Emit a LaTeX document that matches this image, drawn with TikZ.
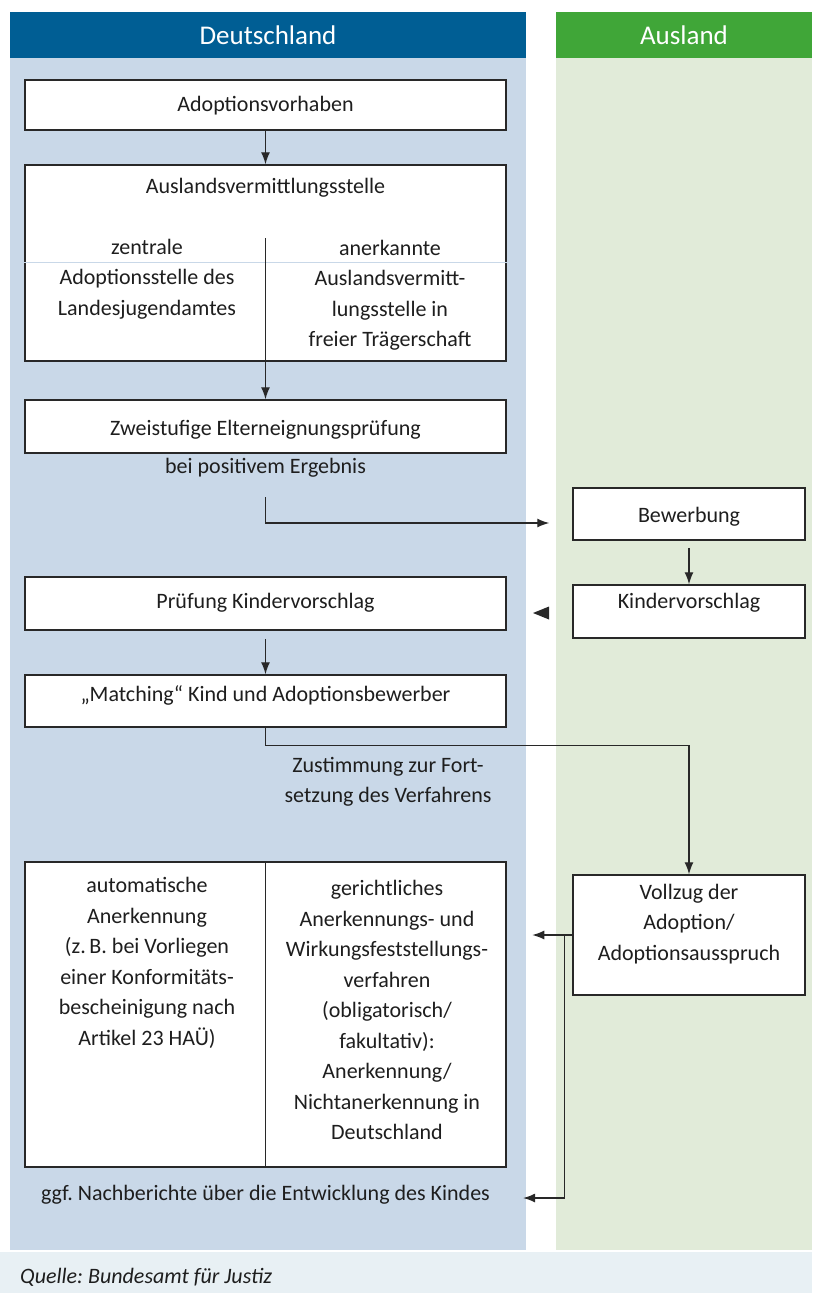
\documentclass[tikz,border=0pt]{standalone}
\usepackage{fontspec}
\setmainfont{Carlito}
\usetikzlibrary{arrows.meta}
\usetikzlibrary{positioning}
\tikzset{>={Latex[length=12pt,width=9pt]}}
\definecolor{dehead}{RGB}{0,94,148}
\definecolor{debody}{RGB}{201,216,232}
\definecolor{auhead}{RGB}{64,166,56}
\definecolor{aubody}{RGB}{225,235,217}
\definecolor{quellbg}{RGB}{232,240,244}
\definecolor{linegray}{RGB}{40,40,40}
\definecolor{textgray}{RGB}{30,30,30}
\frenchspacing

\begin{document}
\begin{tikzpicture}[x=1pt, y=-1pt,
    stepbox/.style={draw=linegray, line width=1.5pt, fill=white, inner sep=0pt},
    txt/.style={font=\fontsize{22}{30.5}\selectfont, text=textgray, align=center, inner sep=0pt},
    kopf/.style={font=\fontsize{27}{30}\selectfont, text=white, inner sep=0pt},
    link/.style={draw=linegray, line width=1.3pt}]
      \useasboundingbox (0,0) rectangle (812,1293);
      % columns
      \fill[debody] (10,58) rectangle (526,1250);
      \fill[aubody] (556,58) rectangle (812,1250);
      \node[kopf, fill=dehead, minimum width=516pt, minimum height=46pt] (de) at (268,35) {Deutschland};
      \node[kopf, fill=auhead, minimum width=256pt, minimum height=46pt] (au) at (684,35) {Ausland};
      % source
      \fill[quellbg] (0,1252) rectangle (812,1293);
      \node[txt, anchor=west, font=\fontsize{22}{30}\selectfont\itshape] (quelle) at (20,1277) {Quelle: Bundesamt für Justiz};
      % Deutschland
      \node[stepbox, minimum width=481pt, minimum height=50pt] (vorhaben) at (265.5,105) {};
      \node[txt] (vorhabentext) at (265.5,106) {Adoptionsvorhaben};
      \node[stepbox, minimum width=481pt, minimum height=196pt] (avs) at (265.5,263) {};
      \draw[debody, line width=1pt] (avs.west |- 0,262) -- (avs.east |- 0,262);
      \node[txt] (avstitel) at (265.5,188) {Auslandsvermittlungsstelle};
      \node[txt] (zentral) at (147,279) {zentrale\\Adoptionsstelle des\\Landesjugendamtes};
      \node[txt] (anerkannt) at (390,295) {anerkannte\\Auslandsvermitt-\\lungsstelle in\\freier Trägerschaft};
      \coordinate (gabel) at (265.5,238);
      \node[stepbox, minimum width=481pt, minimum height=53pt] (eignung) at (265.5,426.5) {};
      \node[txt] (eignungtext) at (265.5,430) {Zweistufige Elterneignungsprüfung};
      \node[txt] (ergebnis) at (265.5,468) {bei positivem Ergebnis};
      \coordinate (ergebnisfuss) at (265.5,497);
      \node[stepbox, minimum width=481pt, minimum height=53pt] (pruefung) at (265.5,603.5) {};
      \node[txt] (pruefungtext) at (265.5,603) {Prüfung Kindervorschlag};
      \node[stepbox, minimum width=481pt, minimum height=52pt] (matching) at (265.5,701) {};
      \node[txt] (matchingtext) at (265.5,695) {„Matching“ Kind und Adoptionsbewerber};
      \node[txt] (zustimmung) at (388,782) {Zustimmung zur Fort-\\setzung des Verfahrens};
      \node[stepbox, minimum width=481pt, minimum height=305pt] (anerk) at (265.5,1014.5) {};
      \draw[link, line width=1.5pt] (anerk.north) -- (anerk.south);
      \node[txt] (auto) at (147,963) {automatische\\Anerkennung\\(z.\,B. bei Vorliegen\\einer Konformitäts-\\bescheinigung nach\\Artikel 23 HAÜ)};
      \node[txt] (gericht) at (387,1010) {gerichtliches\\Anerkennungs- und\\Wirkungsfeststellungs-\\verfahren\\(obligatorisch/\\fakultativ):\\Anerkennung/\\Nichtanerkennung in\\Deutschland};
      \node[txt] (nachbericht) at (265.5,1195) {ggf. Nachberichte über die Entwicklung des Kindes};
      % Ausland
      \node[stepbox, minimum width=232pt, minimum height=52pt] (bewerbung) at (689,514) {};
      \node[txt] (bewerbungtext) at (689,517) {Bewerbung};
      \node[stepbox, minimum width=232pt, minimum height=53pt] (kvr) at (689,611.5) {};
      \node[txt] (kvrtext) at (689,603) {Kindervorschlag};
      \node[stepbox, minimum width=232pt, minimum height=120pt] (vollzug) at (689,935) {};
      \node[txt] (vollzugtext) at (689,924) {Vollzug der\\Adoption/\\Adoptionsausspruch};
      % arrows
      \draw[link, ->] (vorhaben) -- (avs);
      \draw[link, ->] (gabel) -- (eignung.north);
      \draw[link, ->] (ergebnisfuss) |- ([xshift=-23pt, yshift=-9pt]bewerbung.west);
      \draw[link, ->, shorten <=7pt] (bewerbung) -- (kvr);
      \fill[linegray] (549,606.5) -- (533,613) -- (549,619.5) -- cycle;
      \draw[link, ->, shorten <=8pt] (pruefung) -- (matching);
      \draw[link, ->] (matching.south) -- ++(0,18) -| (vollzug.north);
      \draw[link, ->] (vollzug.west) -- ++(-40,0);
      \draw[link, ->] (vollzug.west) ++(-8,0) |- ([xshift=33pt, yshift=-3pt]nachbericht.east);
\end{tikzpicture}
\end{document}
